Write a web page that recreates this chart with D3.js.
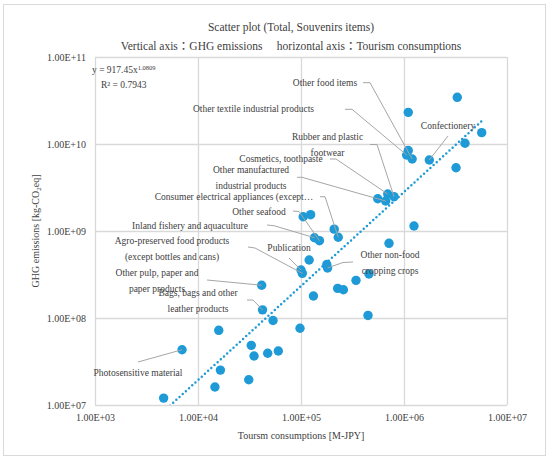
<!DOCTYPE html>
<html>
<head>
<meta charset="utf-8">
<script src="https://cdn.jsdelivr.net/npm/d3@7"></script>
<style>
  body { margin: 0; background: #fff; }
  text { font-family: "Liberation Serif", "Noto Sans CJK JP", serif; fill: #404040; }
</style>
</head>
<body>
<div id="chart"></div>
<script>
// Tourism consumption [M-JPY] and GHG emissions [kg-CO2eq] per souvenir item
const tourism = [4.64e3, 7.0e3, 1.46e4, 1.59e4, 1.65e4, 3.11e4, 3.29e4, 3.50e4, 4.75e4, 6.02e4,
  4.15e4, 4.23e4, 5.35e4, 9.78e4, 1.32e5, 1.03e5, 1.0e5, 1.20e5, 1.78e5, 1.81e5,
  2.27e5, 2.58e5, 3.42e5, 4.57e5, 4.47e5, 7.15e5, 1.05e5, 1.24e5, 1.35e5, 1.51e5,
  2.10e5, 2.30e5, 1.25e6, 5.56e5, 6.95e5, 6.64e5, 8.0e5, 1.10e6, 1.10e6, 1.06e6,
  1.20e6, 1.76e6, 3.20e6, 3.29e6, 3.91e6, 5.68e6];
const ghg = [1.20e7, 4.32e7, 1.61e7, 7.22e7, 2.52e7, 1.95e7, 4.85e7, 3.66e7, 3.93e7, 4.18e7,
  2.38e8, 1.24e8, 9.36e7, 7.62e7, 1.79e8, 3.26e8, 3.56e8, 4.64e8, 4.12e8, 3.76e8,
  2.19e8, 2.11e8, 2.71e8, 3.21e8, 1.07e8, 7.22e8, 1.46e9, 1.54e9, 8.37e8, 7.74e8,
  1.05e9, 8.47e8, 1.14e9, 2.35e9, 2.66e9, 2.21e9, 2.48e9, 2.31e10, 8.42e9, 7.48e9,
  6.72e9, 6.55e9, 5.34e9, 3.44e10, 1.02e10, 1.35e10];
const itemNames = ["", "Photosensitive material", "", "", "", "", "", "", "", "",
  "Other pulp, paper and paper products", "Bags, bags and other leather products", "", "", "",
  "Agro-preserved food products (except bottles and cans)", "Publication", "", "", "Other non-food cropping crops",
  "", "", "", "", "", "", "", "", "Inland fishery and aquaculture", "Other seafood",
  "", "Consumer electrical appliances (except…", "", "", "Cosmetics, toothpaste", "Other manufactured industrial products",
  "Rubber and plastic footwear", "", "", "Other textile industrial products",
  "Other food items", "Confectionery", "", "", "", ""];

const xTicks = [1e3, 1e4, 1e5, 1e6, 1e7];
const yTicks = [1e7, 1e8, 1e9, 1e10, 1e11];
const trendCoef = 917.45, trendExp = 1.0809, rSquared = 0.7943;

// where each data label sits, and the bend of its leader line
const labelLayout = [
  {name: "Photosensitive material", lines: ["Photosensitive material"], x: 138, y: 373, lead: [[138, 362]]},
  {name: "Bags, bags and other leather products", lines: ["Bags, bags and other", "leather products"], x: 198, y: 293, lead: [[247, 300], [253, 300]]},
  {name: "Other pulp, paper and paper products", lines: ["Other pulp, paper and", "paper products"], x: 157, y: 273, lead: [[207, 280]]},
  {name: "Agro-preserved food products (except bottles and cans)", lines: ["Agro-preserved food products", "(except bottles and cans)"], x: 172, y: 241, lead: [[248, 247], [255, 248]]},
  {name: "Publication", lines: ["Publication"], x: 289, y: 248, lead: [[289, 258]]},
  {name: "Other non-food cropping crops", lines: ["Other non-food", "cropping crops"], x: 390, y: 255, lead: [[353, 262], [343, 262.5]]},
  {name: "Inland fishery and aquaculture", lines: ["Inland fishery and aquaculture"], x: 190, y: 226, lead: [[267, 225], [274, 225.7]]},
  {name: "Other seafood", lines: ["Other seafood"], x: 259, y: 211.5, lead: [[293, 211], [299, 211.5]]},
  {name: "Consumer electrical appliances (except…", lines: ["Consumer electrical appliances (except…"], x: 234, y: 196.7, lead: [[320, 196.7], [325, 196.7]]},
  {name: "Other manufactured industrial products", lines: ["Other manufactured", "industrial products"], x: 251, y: 170, lead: [[297, 177.3], [302, 177.3]]},
  {name: "Cosmetics, toothpaste", lines: ["Cosmetics, toothpaste"], x: 281, y: 158.3, lead: [[330, 159], [336, 159]]},
  {name: "Rubber and plastic footwear", lines: ["Rubber and plastic", "footwear"], x: 327.5, y: 137, lead: [[370, 144.5], [377, 144.5]]},
  {name: "Other textile industrial products", lines: ["Other textile industrial products"], x: 253.5, y: 109, lead: [[345, 109.3], [352, 109.3]]},
  {name: "Other food items", lines: ["Other food items"], x: 325, y: 82.7, lead: [[363, 82.7], [370, 82.7]]},
  {name: "Confectionery", lines: ["Confectionery"], x: 448, y: 125.7, lead: [[448, 136]]}
];

const width = 550, height = 461;
const plot = {left: 95, right: 507, top: 57, bottom: 405};
const dotColor = "#1e9ad6";

const svg = d3.select("#chart").append("svg")
  .attr("width", width)
  .attr("height", height);

svg.append("rect")
  .attr("x", 3.5).attr("y", 4.5)
  .attr("width", 542).attr("height", 451)
  .attr("fill", "#fff")
  .attr("stroke", "#d9d9d9");

const x = d3.scaleLog().domain([1e3, 1e7]).range([plot.left, plot.right]);
const y = d3.scaleLog().domain([1e7, 1e11]).range([plot.bottom, plot.top]);

const sciFormat = d => d.toExponential(2).toUpperCase().replace(/E\+(\d)$/, "E+0$1");

// axes with the grid drawn by the ticks
const xAxis = svg.append("g")
  .attr("transform", `translate(0,${plot.bottom})`)
  .call(d3.axisBottom(x).tickValues(xTicks).tickFormat(sciFormat)
    .tickSize(-(plot.bottom - plot.top)).tickPadding(9));
const yAxis = svg.append("g")
  .attr("transform", `translate(${plot.left},0)`)
  .call(d3.axisLeft(y).tickValues(yTicks).tickFormat(sciFormat)
    .tickSize(-(plot.right - plot.left)).tickPadding(9));

[xAxis, yAxis].forEach(g => {
  g.select(".domain").remove();
  g.selectAll(".tick line").attr("stroke", "#d9d9d9").attr("stroke-width", 1.3);
  g.selectAll(".tick text").attr("fill", "#404040").style("font-size", "10px")
    .style("font-family", "'Liberation Serif', serif");
});

// titles
svg.append("text")
  .attr("x", 291).attr("y", 27).attr("dy", "0.35em")
  .attr("text-anchor", "middle").style("font-size", "11.5px")
  .text("Scatter plot (Total, Souvenirs items)");
svg.append("text")
  .attr("x", 291).attr("y", 45.5).attr("dy", "0.35em")
  .attr("text-anchor", "middle").style("font-size", "11.5px")
  .text("Vertical axis：GHG emissions　 horizontal axis：Tourism consumptions");

svg.append("text")
  .attr("x", (plot.left + plot.right) / 2).attr("y", 435.5).attr("dy", "0.35em")
  .attr("text-anchor", "middle").style("font-size", "10px")
  .text("Toursm consumptions [M-JPY]");

const yTitle = svg.append("text")
  .attr("transform", `translate(35,${(plot.top + plot.bottom) / 2}) rotate(-90)`)
  .attr("dy", "0.35em")
  .attr("text-anchor", "middle").style("font-size", "10px");
yTitle.append("tspan").text("GHG emissions [kg-CO");
yTitle.append("tspan").attr("dy", "2").style("font-size", "7px").text("2");
yTitle.append("tspan").attr("dy", "-2").text("eq]");

// trendline y = a x^b, dotted, clipped to the plot area
svg.append("clipPath").attr("id", "plotClip")
  .append("rect")
  .attr("x", plot.left).attr("y", plot.top)
  .attr("width", plot.right - plot.left).attr("height", plot.bottom - plot.top);

const trendX = d3.extent(tourism);
const trendPts = trendX.map(v => [v, trendCoef * Math.pow(v, trendExp)]);
svg.append("path")
  .attr("clip-path", "url(#plotClip)")
  .attr("d", d3.line().x(d => x(d[0])).y(d => y(d[1]))(trendPts))
  .attr("fill", "none")
  .attr("stroke", dotColor)
  .attr("stroke-width", 2.5)
  .attr("stroke-linecap", "round")
  .attr("stroke-dasharray", "0 4.3");

// equation label
const eq = svg.append("text")
  .attr("x", 92).attr("y", 69.5).attr("dy", "0.35em")
  .style("font-size", "9.5px");
eq.append("tspan").text(`y = ${trendCoef}x`);
eq.append("tspan").attr("dy", "-3").style("font-size", "6.5px").text(trendExp);
svg.append("text")
  .attr("x", 101).attr("y", 85).attr("dy", "0.35em")
  .style("font-size", "9.5px")
  .text(`R² = ${rSquared}`);

// points
const points = tourism.map((v, i) => ({x: v, y: ghg[i], name: itemNames[i]}));
svg.append("g")
  .selectAll("circle")
  .data(points)
  .join("circle")
    .attr("cx", d => x(d.x))
    .attr("cy", d => y(d.y))
    .attr("r", 4.7)
    .attr("fill", dotColor);

// leader lines and data labels
const labelG = svg.append("g");
labelLayout.forEach(l => {
  const p = points.find(d => d.name === l.name);
  const path = l.lead.concat([[x(p.x), y(p.y)]]);
  labelG.append("path")
    .attr("d", d3.line()(path))
    .attr("fill", "none")
    .attr("stroke", "#a6a6a6")
    .attr("stroke-width", 1);
  l.lines.forEach((line, k) => {
    labelG.append("text")
      .attr("x", l.x).attr("y", l.y + k * 15.5).attr("dy", "0.35em")
      .attr("text-anchor", "middle")
      .style("font-size", "9.5px")
      .text(line);
  });
});
</script>
</body>
</html>
